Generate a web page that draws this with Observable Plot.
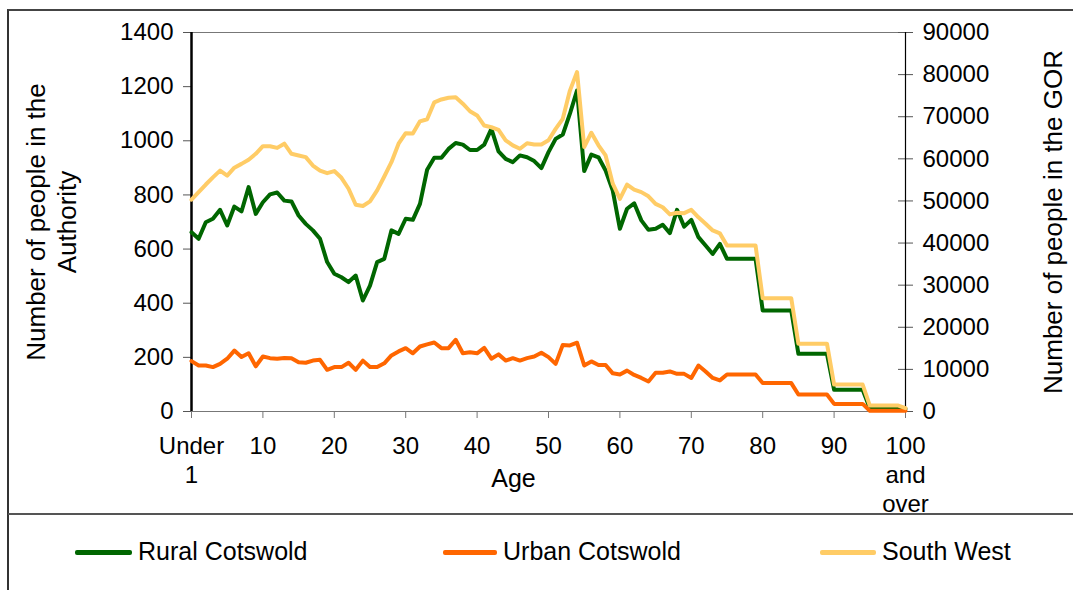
<!DOCTYPE html>
<html><head><meta charset="utf-8">
<script src="https://cdn.jsdelivr.net/npm/d3@7"></script>
<script src="https://cdn.jsdelivr.net/npm/@observablehq/plot@0.6"></script>
<style>
html,body{margin:0;padding:0;background:#fff;}
#wrap{position:relative;width:1073px;height:590px;overflow:hidden;font-family:"Liberation Sans",Arial,sans-serif;}
#frame{position:absolute;left:7px;top:9px;width:1080px;height:600px;border-left:2px solid #333;border-top:2px solid #444;}
#sep{position:absolute;left:8px;top:513px;width:1080px;border-top:2px solid #555;}
#chart{position:absolute;left:0;top:0;}
.leg{position:absolute;top:537px;font-size:25px;color:#000;white-space:nowrap;}
.sw{position:absolute;top:550px;height:5px;border-radius:2px;}
</style>
</head><body>
<div id="wrap">
<div id="frame"></div>
<div id="chart"></div>
<div id="sep"></div>
<div id="legend"></div>
</div>
<script>
const ages = d3.range(0, 101);
const rural = [
662,638,699,712,745,687,757,739,829,730,
773,802,809,779,776,724,693,669,638,552,
509,496,478,502,410,465,552,564,669,656,
712,708,767,893,937,937,970,992,986,966,
966,986,1044,961,933,921,946,939,925,899,
958,1007,1023,1100,1186,888,949,939,890,816,
675,749,769,706,671,675,690,659,745,683,
708,644,613,582,619,564,564,564,564,564,
373,373,373,373,373,213,213,213,213,213,
80,80,80,80,80,12,12,12,12,12,
10];
const urban = [
186,170,170,164,176,195,225,201,215,167,
203,197,195,198,197,182,180,188,191,154,
164,164,180,154,188,164,164,178,207,222,
234,215,240,248,255,234,234,265,215,219,
215,235,195,211,188,197,188,197,203,217,
201,176,246,244,254,170,185,172,172,141,
137,151,135,124,111,143,143,148,139,139,
124,170,148,124,115,137,137,137,137,137,
105,105,105,105,105,63,63,63,63,63,
28,28,28,28,28,3,3,3,3,3,
3];
const southWest = [
50300,52100,53900,55600,57200,56000,57900,58800,59800,61200,
63000,63000,62600,63600,61200,60800,60400,58400,57200,56600,
57100,55500,52900,49100,48800,49900,52500,55800,59200,63600,
66100,66000,68900,69400,73400,74100,74500,74600,73100,71300,
70300,67900,67500,66900,64400,63200,62400,63700,63400,63400,
64400,67100,69500,76200,80600,62800,66200,63200,60800,54100,
50500,53900,52700,52100,51100,49300,48500,46800,47200,47100,
47900,46100,44600,43000,42300,39400,39400,39400,39400,39400,
26900,26900,26900,26900,26900,16100,16100,16100,16100,16100,
6400,6400,6400,6400,6400,1400,1400,1400,1400,1400,
800];
const leftTicks = [0,200,400,600,800,1000,1200,1400];
const rightTicks = [0,10000,20000,30000,40000,50000,60000,70000,80000,90000];
const xTicks = [0,10,20,30,40,50,60,70,80,90,100];
const xTickLabels = ["Under\n1","10","20","30","40","50","60","70","80","90","100\nand\nover"];
const seriesNames = ["Rural Cotswold","Urban Cotswold","South West"];
const seriesColors = ["#006600","#FF6600","#FFCC66"];

const k = 1400 / 90000;
const rows = ages.map((a, i) => ({age: a, rural: rural[i], urban: urban[i], sw: southWest[i]}));
const font = "Liberation Sans, Arial, sans-serif";

const chart = Plot.plot({
  width: 1073, height: 530,
  marginLeft: 191, marginRight: 168, marginTop: 32, marginBottom: 119,
  style: {fontFamily: font, fontSize: "24px", color: "#000", background: "transparent"},
  x: {domain: [0, 100]},
  y: {domain: [0, 1400]},
  marks: [
    Plot.frame({stroke: "#777"}),
    Plot.axisY({anchor: "left", ticks: leftTicks, tickFormat: d => String(d), tickSize: 8, tickPadding: 10, label: null, fontSize: 24, stroke: "#555"}),
    Plot.axisY({anchor: "right", ticks: rightTicks.map(v => v * k), tickFormat: v => String(Math.round(v / k)), tickSize: 7, tickPadding: 10, label: null, fontSize: 24, stroke: "#555"}),
    Plot.tickY(rightTicks.map(v => v * k), {insetLeft: 707, stroke: "#555"}),
    Plot.axisX({anchor: "bottom", ticks: xTicks, tickFormat: d => xTickLabels[xTicks.indexOf(d)], tickSize: 7, tickPadding: 15, label: null, fontSize: 24, lineHeight: 1.2, stroke: "#777"}),
    Plot.ruleX([0], {stroke: "#000", strokeWidth: 2.5}),
    Plot.ruleX([100], {stroke: "#000", strokeWidth: 1.2}),
    Plot.line(rows, {x: "age", y: "rural", stroke: seriesColors[0], strokeWidth: 4, strokeLinejoin: "round"}),
    Plot.line(rows, {x: "age", y: "urban", stroke: seriesColors[1], strokeWidth: 4, strokeLinejoin: "round"}),
    Plot.line(rows, {x: "age", y: d => d.sw * k, stroke: seriesColors[2], strokeWidth: 4, strokeLinejoin: "round"}),
    Plot.text(["Number of people in the\nAuthority"], {frameAnchor: "left", dx: -141, rotate: -90, textAnchor: "middle", lineAnchor: "middle", lineHeight: 1.2, fontSize: 26}),
    Plot.text(["Number of people in the GOR"], {frameAnchor: "right", dx: 148, rotate: -90, textAnchor: "middle", lineAnchor: "middle", fontSize: 26}),
    Plot.text(["Age"], {frameAnchor: "bottom", dx: -35, dy: 67, textAnchor: "middle", lineAnchor: "middle", fontSize: 25})
  ]
});
document.getElementById("chart").appendChild(chart);

const legPos = [[75, 138], [443, 503], [820, 882]];
const legend = document.getElementById("legend");
seriesNames.forEach((name, i) => {
  const s = document.createElement("div");
  s.className = "sw";
  s.style.left = legPos[i][0] + "px";
  s.style.width = (legPos[i][1] - legPos[i][0] - 6) + "px";
  s.style.background = seriesColors[i];
  legend.appendChild(s);
  const t = document.createElement("div");
  t.className = "leg";
  t.style.left = legPos[i][1] + "px";
  t.textContent = name;
  legend.appendChild(t);
});
</script>
</body></html>
